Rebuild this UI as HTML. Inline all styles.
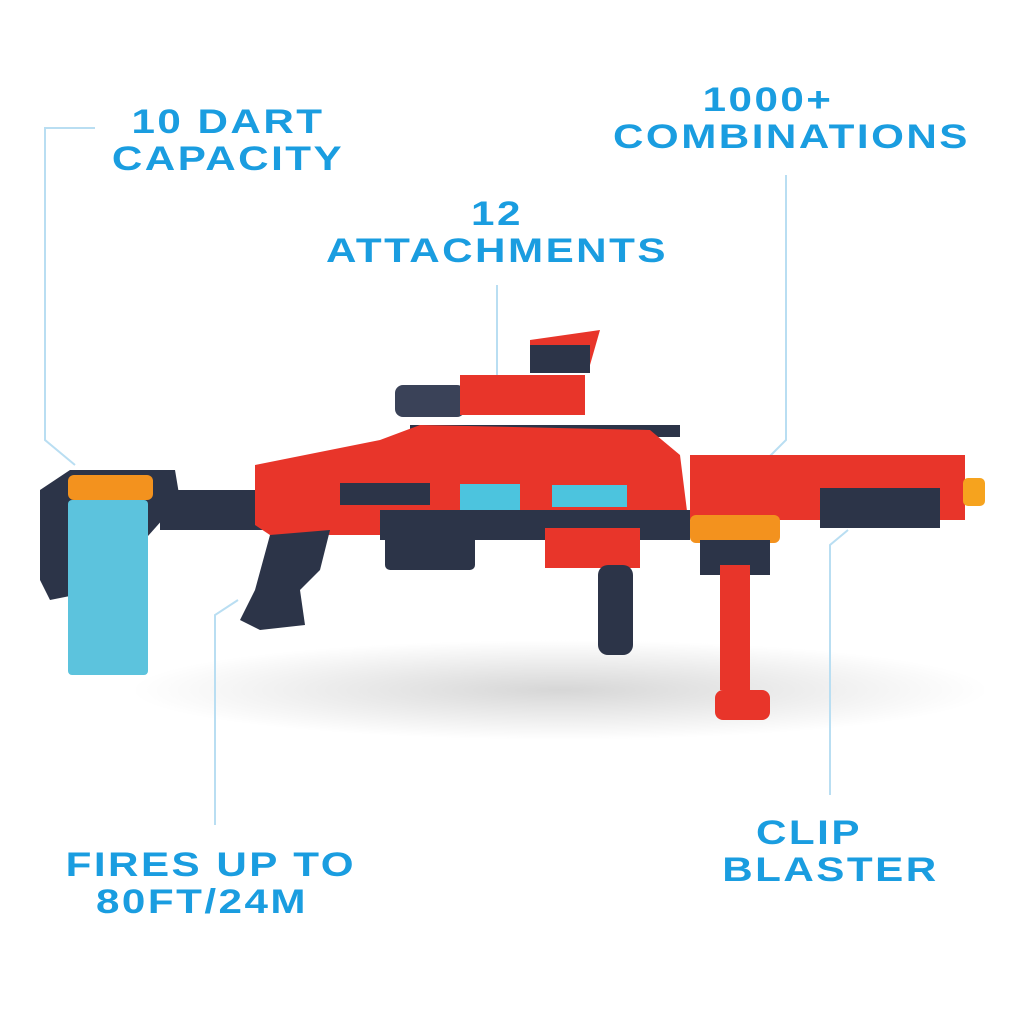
<!DOCTYPE html>
<html><head><meta charset="utf-8"><style>
html,body{margin:0;padding:0;background:#fff;width:1024px;height:1024px;overflow:hidden}
.t{position:absolute;color:#1a9de0;font-family:"Liberation Sans",sans-serif;font-weight:bold;font-size:34px;line-height:37px;text-align:center;letter-spacing:2px;transform:scaleX(1.24);transform-origin:center;white-space:nowrap}
</style></head><body>
<svg width="1024" height="1024" style="position:absolute;left:0;top:0">
<defs><radialGradient id="sh"><stop offset="0" stop-color="#000" stop-opacity=".16"/><stop offset="1" stop-color="#000" stop-opacity="0"/></radialGradient></defs>
<ellipse cx="560" cy="690" rx="430" ry="50" fill="url(#sh)"/>
<g stroke="#b9def2" stroke-width="2" fill="none">
<polyline points="95,128 45,128 45,440 75,465"/>
<line x1="497" y1="285" x2="497" y2="375"/>
<polyline points="786,175 786,440 770,456"/>
<polyline points="215,825 215,615 238,600"/>
<polyline points="830,795 830,545 848,530"/>
</g>
<rect x="410" y="425" width="270" height="12" fill="#2c3448"/>
<rect x="395" y="385" width="70" height="32" rx="8" fill="#3a4258"/>
<rect x="460" y="375" width="125" height="40" fill="#e8352a"/>
<polygon points="530,340 600,330 590,365 530,365" fill="#e8352a"/>
<rect x="530" y="345" width="60" height="28" fill="#2c3448"/>
<polygon points="40,490 70,470 175,470 180,500 100,590 50,600 40,580" fill="#2c3448"/>
<rect x="160" y="490" width="120" height="40" fill="#2c3448"/>
<rect x="68" y="500" width="80" height="175" rx="4" fill="#5cc3dd"/>
<rect x="68" y="475" width="85" height="25" rx="6" fill="#f3921e"/>
<polygon points="255,465 380,440 420,425 650,430 680,455 690,535 550,535 270,535 255,525" fill="#e8352a"/>
<rect x="340" y="483" width="90" height="22" fill="#2c3448"/>
<rect x="460" y="484" width="60" height="26" fill="#4cc4de"/>
<rect x="552" y="485" width="75" height="22" fill="#4cc4de"/>
<rect x="380" y="510" width="310" height="30" fill="#2c3448"/>
<polygon points="270,535 330,530 320,570 300,590 305,625 260,630 240,620 255,590" fill="#2c3448"/>
<rect x="385" y="525" width="90" height="45" rx="5" fill="#2c3448"/>
<rect x="545" y="528" width="95" height="40" fill="#e8352a"/>
<rect x="598" y="565" width="35" height="90" rx="10" fill="#2c3448"/>
<rect x="690" y="455" width="275" height="65" fill="#e8352a"/>
<rect x="820" y="488" width="120" height="40" fill="#2c3448"/>
<rect x="963" y="478" width="22" height="28" rx="5" fill="#f6a31e"/>
<rect x="690" y="515" width="90" height="28" rx="6" fill="#f3921e"/>
<rect x="700" y="540" width="70" height="35" fill="#2c3448"/>
<rect x="720" y="565" width="30" height="125" fill="#e8352a"/>
<rect x="715" y="690" width="55" height="30" rx="8" fill="#e8352a"/>
</svg>
<div class="t" style="left:128px;top:104px;width:200px">10 DART<br>CAPACITY</div>
<div class="t" style="left:352px;top:196px;width:290px">12<br>ATTACHMENTS</div>
<div class="t" style="left:643px;top:82px;width:250px">1000+<br>COMBINATIONS</div>
<div class="t" style="left:92px;top:847px;width:220px">FIRES UP TO<br>80FT/24M</div>
<div class="t" style="left:739px;top:815px;width:140px">CLIP<br>BLASTER</div>
</body></html>
